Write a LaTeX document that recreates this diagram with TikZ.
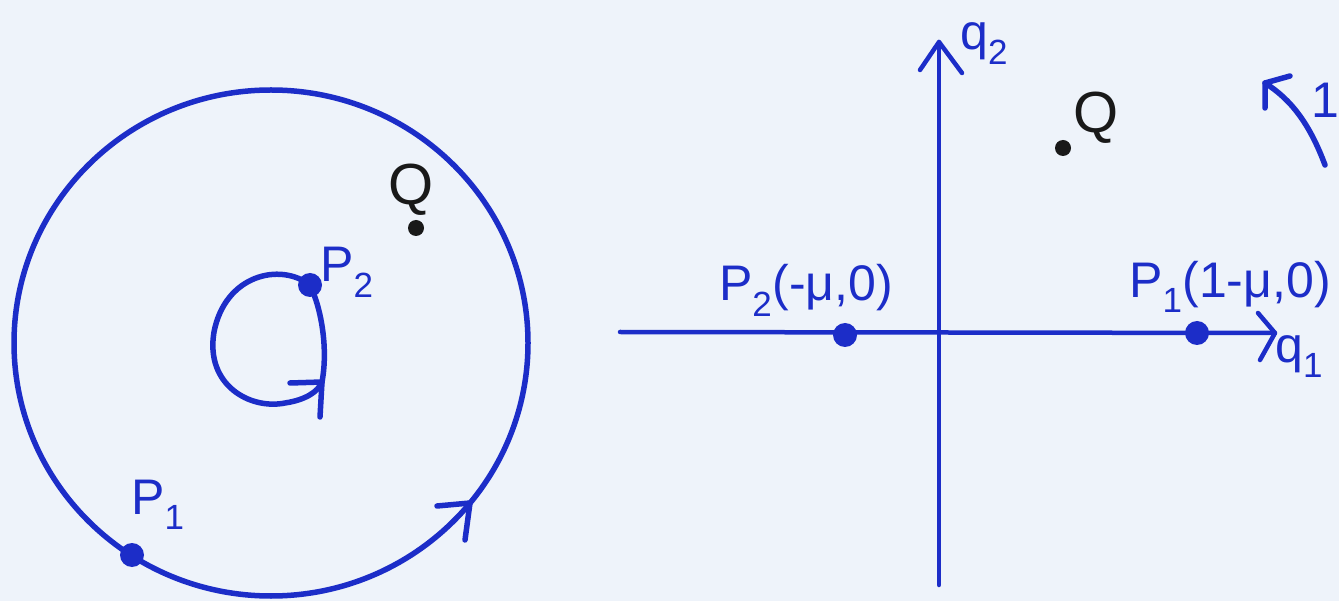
\documentclass[tikz,border=0pt]{standalone}
\usepackage{fontspec}
\setmainfont{Liberation Sans}
\definecolor{paper}{RGB}{238,243,250}
\definecolor{ink}{RGB}{28,45,200}
\definecolor{pencil}{RGB}{25,25,25}
\begin{document}
\begin{tikzpicture}[x=1pt,y=-1pt, line cap=round, line join=round,
  orbit/.style={draw=ink, line width=5.5pt},
  axis/.style={draw=ink, line width=4.5pt},
  body/.style={circle, fill=ink, inner sep=0pt, minimum size=24pt},
  pt/.style={circle, fill=pencil, inner sep=0pt, minimum size=16pt},
  lab/.style={text=ink, font=\fontsize{50}{60}\selectfont, inner sep=0pt},
  qlab/.style={text=pencil, font=\fontsize{58}{66}\selectfont, inner sep=0pt}]
\fill[paper] (0,0) rectangle (1339,601);
\useasboundingbox (0,0) rectangle (1339,601);
% left panel: outer orbit
\draw[orbit] (271,343) ellipse [x radius=257, y radius=253];
\coordinate (tipA) at (470,503);
\draw[orbit] (437,506) -- (tipA) -- (465,540);
\node[body] (P1) at (132,555) {};
\node[lab] (P1l) at (158,505) {P\textsubscript{1}};
% inner orbit
\node[body] (P2) at (310,285) {};
\coordinate (tipB) at (322,382);
\draw[orbit] (P2.center) .. controls (280,262) and (225,275) .. (214,332) .. controls (205,385) and (250,410) .. (285,403) .. controls (305,400) and (318,392) .. (tipB);
\draw[orbit] (P2.center) .. controls (322,310) and (328,350) .. (tipB) -- (320,417);
\draw[orbit] (290,383) -- (tipB);
\node[lab] (P2l) at (347,272) {P\textsubscript{2}};
\node[pt] (Qa) at (416,228) {};
\node[qlab] (Qal) at (411,190) {Q};
% right panel: axes
\coordinate (xs) at (620,332);
\coordinate (xe) at (1275,333);
\draw[axis] (xs) -- (xe);
\draw[axis] (1258,313) -- (xe) -- (1260,360);
\coordinate (ys) at (939,585);
\coordinate (ye) at (939,42);
\draw[axis] (ys) -- (ye);
\draw[axis] (920,70) -- (ye) -- (962,73);
\node[lab, anchor=north west] (q2) at (960,22) {q\textsubscript{2}};
\node[lab, anchor=north west] (q1) at (1275,335) {q\textsubscript{1}};
\node[body] (P2r) at (845,335) {};
\node[lab] (P2rl) at (806,290) {P\textsubscript{2}(-μ,0)};
\node[body] (P1r) at (1197,333) {};
\node[lab] (P1rl) at (1230,287) {P\textsubscript{1}(1-μ,0)};
\node[pt] (Qr) at (1063,148) {};
\node[qlab] (Qrl) at (1096,118) {Q};
% rotation arrow
\coordinate (rs) at (1325,165);
\coordinate (rt) at (1265,83);
\draw[orbit] (rs) .. controls (1310,125) and (1292,100) .. (rt);
\draw[orbit] (1290,76) -- (rt) -- (1265,108);
\node[lab, anchor=east] (om) at (1339,100) {1};
\end{tikzpicture}
\end{document}
